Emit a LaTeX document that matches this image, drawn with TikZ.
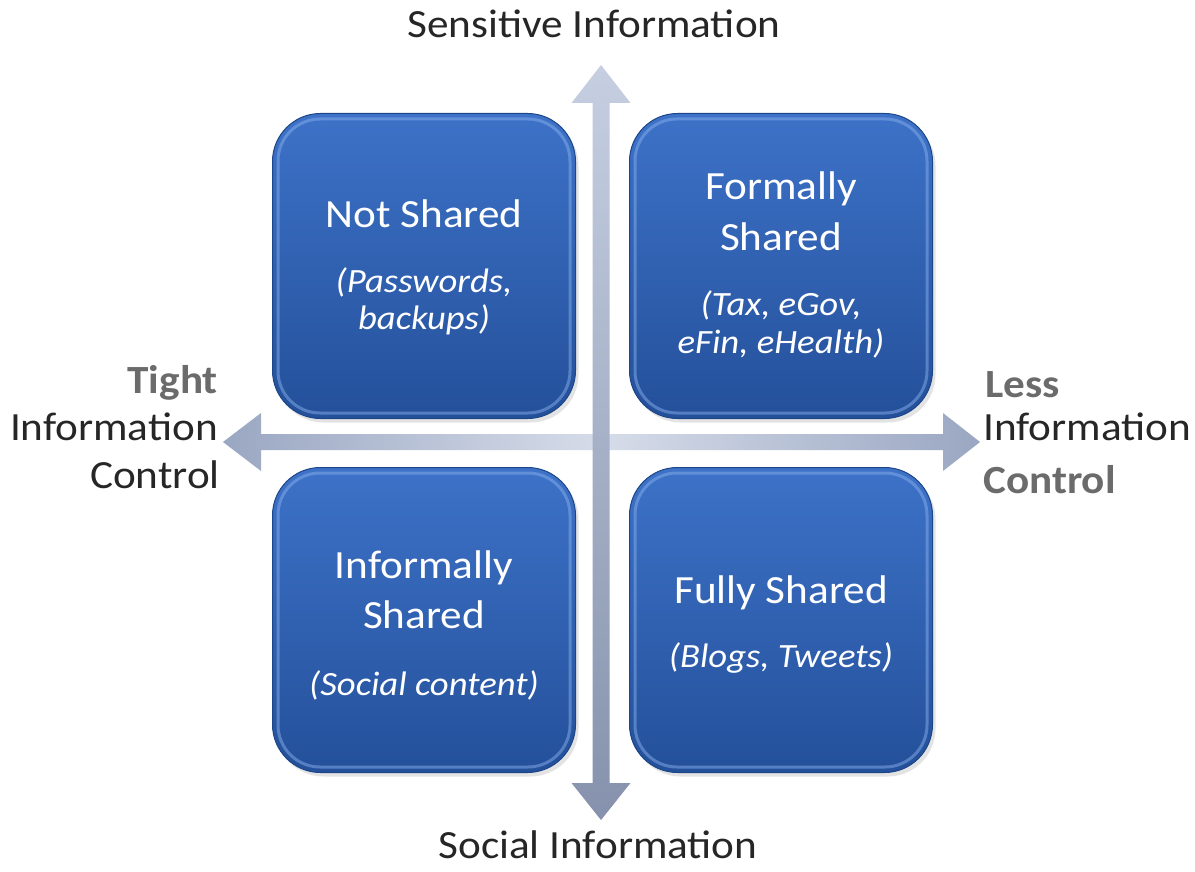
\documentclass[tikz,border=0pt]{standalone}
\usepackage{fontspec}
\setmainfont{Carlito}[FakeStretch=1.08]
\usetikzlibrary{calc,shadows}
\definecolor{boxtop}{HTML}{3D72C8}
\definecolor{boxbot}{HTML}{24509A}
\definecolor{rim}{HTML}{1C4688}
\definecolor{hilite}{HTML}{86AEEA}
\definecolor{axL}{HTML}{9AA7C2}
\definecolor{axM}{HTML}{D6DCE9}
\definecolor{axTop}{HTML}{C6CFE1}
\definecolor{axBot}{HTML}{8692AD}
\definecolor{labdark}{HTML}{262626}
\definecolor{labgray}{HTML}{6B6B6B}
\begin{document}
\begin{tikzpicture}[x=1pt,y=-1pt,
  quad/.style={minimum width=303pt, minimum height=305pt, rounded corners=48pt,
    top color=boxtop, bottom color=boxbot, draw=rim, line width=1pt, inner sep=0pt,
    drop shadow={shadow xshift=3pt, shadow yshift=-4pt, opacity=.22}},
  rimlight/.style={hilite, line width=3pt, opacity=.5, rounded corners=42pt},
  ttl/.style={text=white, font=\fontsize{40}{48}\selectfont, anchor=base, inner sep=0pt},
  sub/.style={text=white, font=\fontsize{34}{40}\selectfont\itshape, anchor=base, inner sep=0pt},
  axlab/.style={text=labdark, font=\fontsize{40}{48}\selectfont, anchor=base, inner sep=0pt},
  axbold/.style={text=labgray, font=\fontsize{40}{48}\selectfont\bfseries, anchor=base, inner sep=0pt},
]
\useasboundingbox[fill=white] (0,0) rectangle (1195,872);

% axes
\coordinate (vt) at (601,65);
\coordinate (vb) at (601,820);
\coordinate (hl) at (223,442);
\coordinate (hr) at (980,442);
\path[left color=axL, right color=axL, middle color=axM]
  (hl) -- ++(38,-29) -- ++(0,21) -- ($(hr)+(-37,-8)$) -- ++(0,-21) -- (hr)
  -- ++(-37,29) -- ++(0,-21) -- ($(hl)+(38,8)$) -- ++(0,21) -- cycle;
\path[top color=axTop, bottom color=axBot]
  (vt) -- ++(29.5,38) -- ++(-21,0) -- ($(vb)+(8.5,-37)$) -- ++(21,0) -- (vb)
  -- ++(-29.5,-37) -- ++(21,0) -- ($(vt)+(-8.5,38)$) -- ++(-21,0) -- cycle;

% boxes
\node[quad] (ns) at (424,266) {};
\node[quad] (fs) at (781,266) {};
\node[quad] (is) at (424,620) {};
\node[quad] (fu) at (781,620) {};
\foreach \b in {ns,fs,is,fu}{
  \draw[rimlight] ($(\b.north west)+(6,6)$) rectangle ($(\b.south east)+(-6,-6)$);
}

% box texts
\node[ttl] (t1) at (424,228) {Not Shared};
\node[sub] (s1a) at (424,292) {(Passwords,};
\node[sub] (s1b) at (424,329) {backups)};

\node[ttl] (t2a) at (781,200) {Formally};
\node[ttl] (t2b) at (781,250) {Shared};
\node[sub] (s2a) at (781,315) {(Tax, eGov,};
\node[sub] (s2b) at (781,353) {eFin, eHealth)};

\node[ttl] (t3a) at (424,578) {Informally};
\node[ttl] (t3b) at (424,628) {Shared};
\node[sub] (s3) at (424,695) {(Social content)};

\node[ttl] (t4) at (781,603) {Fully Shared};
\node[sub] (s4) at (781,667) {(Blogs, Tweets)};

% axis labels
\node[axlab] (sens) at (594,38) {Sensitive Information};
\node[axlab] (soc) at (598,858) {Social Information};
\node[axbold, anchor=base east] (tight) at (218,393) {Tight};
\node[axlab, anchor=base east] (linfo) at (218,440) {Information};
\node[axlab, anchor=base east] (lctrl) at (220,488) {Control};
\node[axbold, anchor=base west] (less) at (985,397) {Less};
\node[axlab, anchor=base west] (rinfo) at (983,440) {Information};
\node[axbold, anchor=base west] (rctrl) at (983,493) {Control};
\end{tikzpicture}
\end{document}
